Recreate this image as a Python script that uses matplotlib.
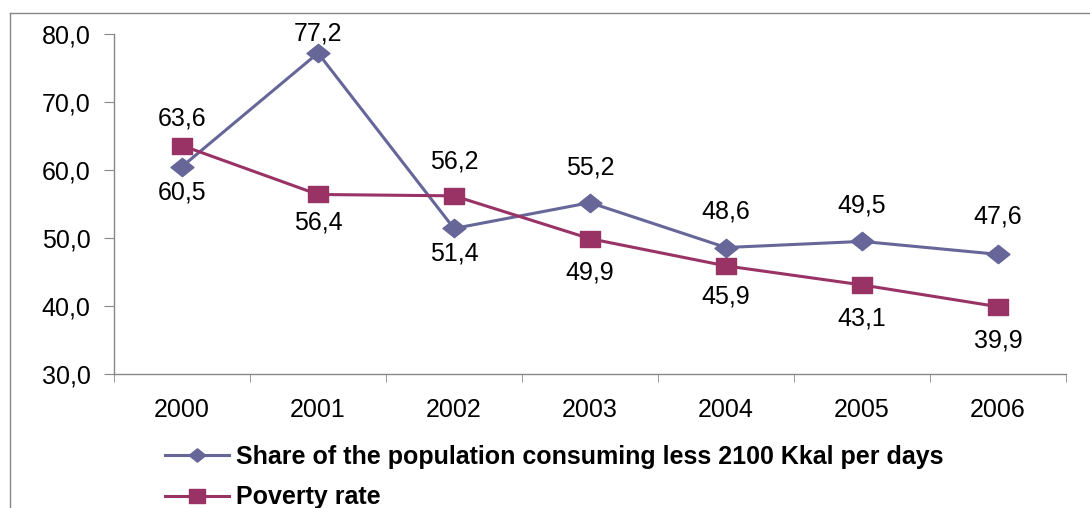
import matplotlib.pyplot as plt
from matplotlib.lines import Line2D
from matplotlib.path import Path

plt.rcParams['font.family'] = ['Liberation Sans', 'DejaVu Sans']

years = ['2000', '2001', '2002', '2003', '2004', '2005', '2006']
share_low_kcal = [60.5, 77.2, 51.4, 55.2, 48.6, 49.5, 47.6]
poverty_rate = [63.6, 56.4, 56.2, 49.9, 45.9, 43.1, 39.9]

# vertical label offsets in points (positive = above the marker)
share_off = [-19, 14, -18, 25, 26, 26, 27]
poverty_off = [19.5, -20, 24.5, -24, -22, -24, -24.5]

blue = '#666699'
red = '#993366'
grey = '#888888'

# slightly wide markers
diamond = Path([(-1.25, 0), (0, 1), (1.25, 0), (0, -1), (-1.25, 0)],
               [Path.MOVETO, Path.LINETO, Path.LINETO, Path.LINETO, Path.CLOSEPOLY])
square = Path([(-1.18, -1), (1.18, -1), (1.18, 1), (-1.18, 1), (-1.18, -1)],
              [Path.MOVETO, Path.LINETO, Path.LINETO, Path.LINETO, Path.CLOSEPOLY])

fig = plt.figure(figsize=(10.9, 5.08), dpi=100)
ax = fig.add_axes([114 / 1090, 1 - 374 / 508, 952 / 1090, 340 / 508])

x = list(range(len(years)))
ax.plot(x, share_low_kcal, color=blue, lw=2.2, marker=diamond, ms=16.5,
        label='Share of the population consuming less 2100 Kkal per days')
ax.plot(x, poverty_rate, color=red, lw=2.2, marker=square, ms=14.4,
        label='Poverty rate')


def fmt(v):
    return f'{v:.1f}'.replace('.', ',')


for xi, v, o in zip(x, share_low_kcal, share_off):
    ax.annotate(fmt(v), (xi, v), xytext=(0, o), textcoords='offset points',
                ha='center', va='center', fontsize=18)
for xi, v, o in zip(x, poverty_rate, poverty_off):
    ax.annotate(fmt(v), (xi, v), xytext=(0, o), textcoords='offset points',
                ha='center', va='center', fontsize=18)

ax.set_xlim(-0.5, len(years) - 0.5)
ax.set_ylim(30, 80)
ax.set_yticks([30, 40, 50, 60, 70, 80])
ax.set_yticklabels([fmt(v) for v in [30, 40, 50, 60, 70, 80]], fontsize=18)
ax.set_xticks(x)
ax.set_xticklabels(years, fontsize=18)
ax.set_xticks([i + 0.5 for i in range(-1, len(years))], minor=True)
ax.tick_params(axis='x', which='major', length=0, pad=17)
ax.tick_params(axis='x', which='minor', length=6, color=grey, direction='out')
ax.tick_params(axis='y', length=7, color=grey, pad=10)
for s in ['top', 'right']:
    ax.spines[s].set_visible(False)
for s in ['left', 'bottom']:
    ax.spines[s].set_color(grey)
    ax.spines[s].set_linewidth(1)

# outer chart frame
fig.add_artist(Line2D([10 / 1090, 1], [1 - 13 / 508, 1 - 13 / 508],
                      transform=fig.transFigure, color=grey, lw=1))
fig.add_artist(Line2D([10 / 1090, 10 / 1090], [0, 1 - 13 / 508],
                      transform=fig.transFigure, color=grey, lw=1))

leg = fig.legend(loc='upper left', bbox_to_anchor=(155 / 1090, 1 - 435 / 508),
                 frameon=False, handlelength=2.55, handletextpad=0.3,
                 labelspacing=0.65, borderaxespad=0,
                 prop={'weight': 'bold', 'size': 18})
for h in leg.legend_handles:
    h.set_markersize(12)

fig.savefig('out.png', dpi=100)
